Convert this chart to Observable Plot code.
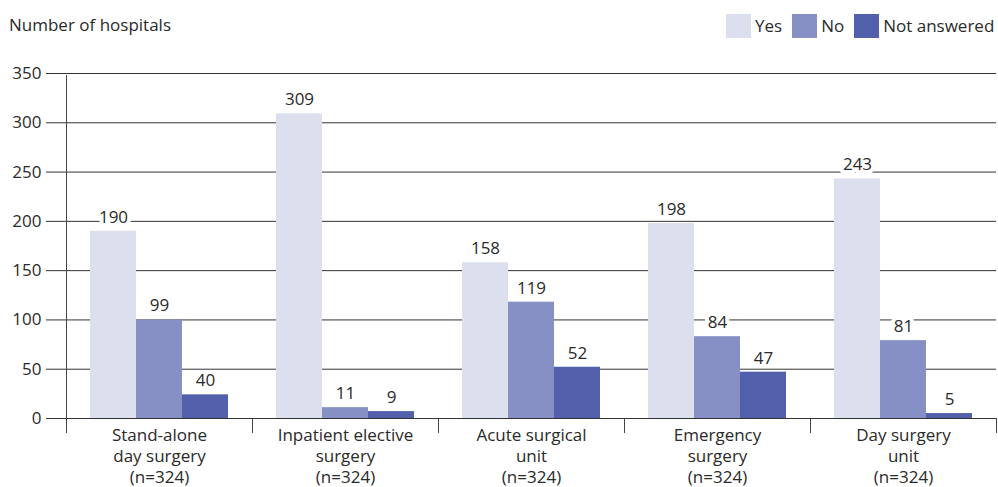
<!DOCTYPE html>
<html><head><meta charset="utf-8">
<script src="https://cdn.jsdelivr.net/npm/d3@7"></script>
<script src="https://cdn.jsdelivr.net/npm/@observablehq/plot@0.6"></script>
<style>
body{margin:0;background:#fff;font-family:"Open Sans",sans-serif;color:#2a2a2a}
#wrap{position:relative;width:998px;height:487px;overflow:hidden}
#chart{position:absolute;left:0;top:0}
#title{position:absolute;left:9px;top:13px;font-size:17px;line-height:24px;white-space:nowrap}
#legend{position:absolute;left:726px;top:14px;display:flex;align-items:center;font-size:17px;line-height:24px;white-space:nowrap}
.sw{width:25px;height:24px;margin-right:4px;flex:none}
.item{display:flex;align-items:center;margin-right:10px;white-space:nowrap}
</style></head>
<body><div id="wrap"><div id="chart"></div><div id="title">Number of hospitals</div><div id="legend"></div></div>
<script>
const groups = ["Stand-alone\nday surgery\n(n=324)", "Inpatient elective\nsurgery\n(n=324)", "Acute surgical\nunit\n(n=324)", "Emergency\nsurgery\n(n=324)", "Day surgery\nunit\n(n=324)"];
const series = ["Yes", "No", "Not answered"];
const colors = ["#dcdfee", "#8690c4", "#5260ac"];
const yes = [190, 309, 158, 198, 243];
const no = [99, 11, 119, 84, 81];
const notAnswered = [40, 9, 52, 47, 5];
// bar heights as drawn in the source picture (labels above come from the arrays above)
const yesDrawn = [190, 309, 158, 198, 243];
const noDrawn = [100, 11, 118, 83, 79];
const notAnsweredDrawn = [24, 7, 52, 47, 5];
const yTicks = [0, 50, 100, 150, 200, 250, 300, 350];

const labelArrays = [yes, no, notAnswered];
const drawnArrays = [yesDrawn, noDrawn, notAnsweredDrawn];
const table = [];
groups.forEach((g, i) => series.forEach((s, k) => table.push({group: g, series: s, label: labelArrays[k][i], drawn: drawnArrays[k][i]})));
const groupTable = groups.map(g => ({group: g}));

const chart = Plot.plot({
  width: 998, height: 487,
  marginTop: 73, marginBottom: 55, marginLeft: 65, marginRight: 1,
  style: {fontFamily: "'Open Sans', sans-serif", fontSize: "17px", color: "#2a2a2a", background: "white"},
  fx: {domain: groups, padding: 0, axis: null},
  x: {domain: series, paddingInner: 0, paddingOuter: 0.52, axis: null},
  y: {domain: [0, 350], range: [418, 73], axis: null},
  color: {domain: series, range: colors},
  marks: [
    Plot.gridY({ticks: yTicks, stroke: "#333", strokeOpacity: 1}),
    Plot.axisY({ticks: yTicks, tickSize: 20, tickPadding: 5, stroke: "#333", strokeOpacity: 1, fill: "#2a2a2a", label: null, fontSize: 17}),
    Plot.barY(table, {fx: "group", x: "series", y: "drawn", fill: "series"}),
    Plot.text(table, {fx: "group", x: "series", y: "drawn", text: d => String(d.label), dy: -14, fill: "#2a2a2a", stroke: "white", strokeWidth: 8, paintOrder: "stroke", fontSize: 17}),
    Plot.frame({anchor: "left", facetAnchor: "left", insetTop: 2, stroke: "#444"}),
    Plot.frame({anchor: "left", insetTop: 345, stroke: "#444"}),
    Plot.frame({anchor: "right", facetAnchor: "right", insetTop: 345, stroke: "#444"}),
    Plot.text(groupTable, {fx: "group", text: "group", frameAnchor: "bottom", lineAnchor: "top", dy: -6, lineHeight: 1.235, fill: "#2a2a2a", fontSize: 17})
  ]
});
document.getElementById("chart").appendChild(chart);

const legend = document.getElementById("legend");
series.forEach((s, k) => {
  const it = document.createElement("div");
  it.className = "item";
  const sw = document.createElement("div");
  sw.className = "sw";
  sw.style.background = colors[k];
  const t = document.createElement("span");
  t.textContent = s;
  it.appendChild(sw); it.appendChild(t);
  legend.appendChild(it);
});
</script>
</body></html>
